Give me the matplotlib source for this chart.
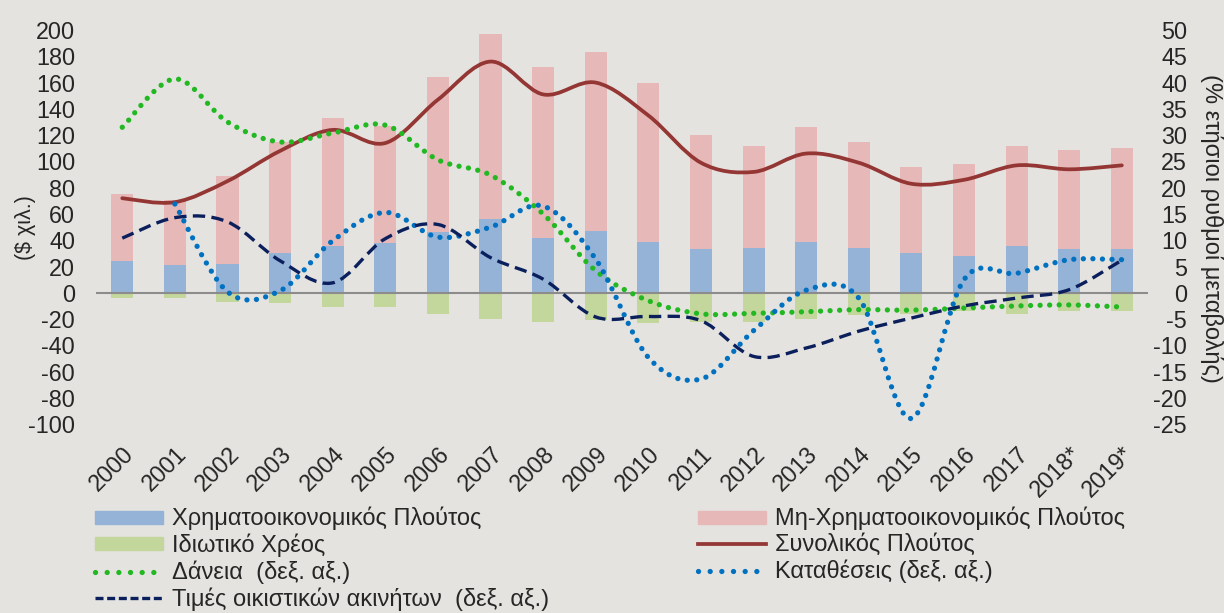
import numpy as np
import matplotlib
matplotlib.use("Agg")
import matplotlib.pyplot as plt
from matplotlib.path import Path
from matplotlib.patches import PathPatch, Patch
from matplotlib.lines import Line2D

# Δεδομένα (εκτίμηση από το διάγραμμα)
years = ["2000", "2001", "2002", "2003", "2004", "2005", "2006", "2007", "2008", "2009",
         "2010", "2011", "2012", "2013", "2014", "2015", "2016", "2017", "2018*", "2019*"]
fin_wealth = [24, 21, 22, 30, 36, 38, 46, 56, 42, 47,
              39, 33, 34, 39, 34, 30, 28, 36, 33, 33]
total_bar = [75, 71, 89, 115, 133, 127, 164, 197, 172, 183,
             160, 120, 112, 126, 115, 96, 98, 112, 109, 110]
nonfin_wealth = [t - f for t, f in zip(total_bar, fin_wealth)]
private_debt = [-4, -4, -7, -8, -11, -11, -16, -20, -22, -21,
                -23, -22, -22, -20, -17, -16, -14, -16, -14, -14]
total_wealth = [72, 69, 85, 108, 124, 114, 147, 176, 151, 160,
                135, 99, 92, 106, 99, 83, 86, 97, 94, 97]
# δεξιός άξονας (%)
loans = [31.5, 40.7, 32.5, 28.7, 30.4, 31.9, 25.3, 22.4, 15.0, 4.2,
         -1.5, -4.0, -3.9, -3.6, -3.2, -3.3, -2.9, -2.5, -2.3, -2.7]
deposits = [np.nan, 16.9, 0.2, 0.4, 9.9, 15.3, 10.6, 12.5, 16.5, 6.4,
            -12.3, -16.4, -7.2, 0.5, -1.0, -23.9, 2.5, 3.7, 6.3, 6.3]
house_prices = [10.4, 14.3, 13.5, 6.1, 1.9, 10.3, 13.0, 6.7, 2.6, -4.6,
                -4.5, -5.3, -12.1, -10.5, -7.3, -4.8, -2.5, -1.0, 0.6, 6.2]

bg = "#E4E3DF"
txt = "#262626"
c_fin = "#95B3D7"
c_nonfin = "#E6B9B8"
c_debt = "#C3D69B"
c_total = "#943634"
c_loans = "#22B822"
c_dep = "#0070C0"
c_house = "#0A1F5C"

dots = (0, (0.01, 1.8))
dashes = (0, (3.7, 1.9))


def smooth_path(xs, ys):
    # καμπύλη τύπου Excel (Catmull-Rom σε Bezier)
    pts = np.column_stack([xs, ys])
    pts = pts[~np.isnan(pts[:, 1])]
    n = len(pts)
    verts = [pts[0]]
    codes = [Path.MOVETO]
    for i in range(n - 1):
        p0 = pts[max(i - 1, 0)]
        p1 = pts[i]
        p2 = pts[i + 1]
        p3 = pts[min(i + 2, n - 1)]
        verts += [p1 + (p2 - p0) / 6, p2 - (p3 - p1) / 6, p2]
        codes += [Path.CURVE4] * 3
    return Path(verts, codes)


plt.rcParams['font.family'] = ['Liberation Sans', 'DejaVu Sans']
plt.rcParams['axes.unicode_minus'] = False

fig = plt.figure(figsize=(12.24, 6.13), dpi=100, facecolor=bg)
ax = fig.add_axes([0.0784, 0.308, 0.8596, 0.643])
ax.set_facecolor(bg)
x = np.arange(len(years))
w = 0.42

ax.bar(x, fin_wealth, w, color=c_fin, zorder=2)
ax.bar(x, nonfin_wealth, w, bottom=fin_wealth, color=c_nonfin, zorder=2)
ax.bar(x, private_debt, w, color=c_debt, zorder=2)
ax.axhline(0, color="#8C8C8C", lw=1.5, zorder=3)
ax.add_patch(PathPatch(smooth_path(x, total_wealth), fill=False, ec=c_total,
                       lw=2.7, capstyle='round', zorder=4))

ax.set_xlim(-0.5, len(years) - 0.5)
ax.set_ylim(-100, 200)
ax.set_yticks(range(-100, 201, 20))
ax.set_xticks(x)
ax.set_xticklabels(years, rotation=45, ha='right', rotation_mode='anchor')
ax.tick_params(axis='both', length=0, labelsize=16.8, colors=txt)
ax.tick_params(axis='x', pad=13)
ax.tick_params(axis='y', pad=15)
for s in ax.spines.values():
    s.set_visible(False)

ax2 = ax.twinx()
ax2.set_ylim(-25, 50)
ax2.set_yticks(range(-25, 51, 5))
ax2.tick_params(axis='y', length=0, labelsize=16.8, colors=txt, pad=28)
for lab in ax2.get_yticklabels():
    lab.set_horizontalalignment('right')
for s in ax2.spines.values():
    s.set_visible(False)
ax2.add_patch(PathPatch(smooth_path(x, loans), fill=False, ec=c_loans, lw=3.8,
                        linestyle=dots, capstyle='round', zorder=5))
ax2.add_patch(PathPatch(smooth_path(x, deposits), fill=False, ec=c_dep, lw=3.8,
                        linestyle=dots, capstyle='round', zorder=5))
ax2.add_patch(PathPatch(smooth_path(x, house_prices), fill=False, ec=c_house, lw=2.4,
                        linestyle=dashes, zorder=6))

fig.text(25 / 1224, 1 - 228 / 613, "($ χιλ.)", fontsize=15.5, color=txt,
         rotation=90, ha='center', va='center')
fig.text(1211 / 1224, 1 - 228 / 613, "(% ετήσιοι ρυθμοί μεταβολής)", fontsize=17,
         color=txt, rotation=270, ha='center', va='center')

left_handles = [
    Patch(color=c_fin, label="Χρηματοοικονομικός Πλούτος"),
    Patch(color=c_debt, label="Ιδιωτικό Χρέος"),
    Line2D([], [], color=c_loans, lw=3.8, linestyle=(0, (0.01, 2.2)),
           dash_capstyle='round', label="Δάνεια  (δεξ. αξ.)"),
    Line2D([], [], color=c_house, lw=2.4, linestyle=(0, (2.4, 1.1)),
           label="Τιμές οικιστικών ακινήτων  (δεξ. αξ.)"),
]
right_handles = [
    Patch(color=c_nonfin, label="Μη-Χρηματοοικονομικός Πλούτος"),
    Line2D([], [], color=c_total, lw=2.7, label="Συνολικός Πλούτος"),
    Line2D([], [], color=c_dep, lw=3.8, linestyle=(0, (0.01, 2.2)),
           dash_capstyle='round', label="Καταθέσεις (δεξ. αξ.)"),
]
leg_kw = dict(loc='upper left', frameon=False, fontsize=17, handlelength=2.9,
              handleheight=0.47, handletextpad=0.38, labelspacing=0.14,
              borderaxespad=0, borderpad=0, labelcolor=txt)
fig.legend(handles=left_handles, bbox_to_anchor=(95 / 1224, 1 - 507 / 613), **leg_kw)
fig.legend(handles=right_handles, bbox_to_anchor=(698 / 1224, 1 - 507 / 613), **leg_kw)

fig.savefig("out.png", dpi=100, facecolor=bg)
